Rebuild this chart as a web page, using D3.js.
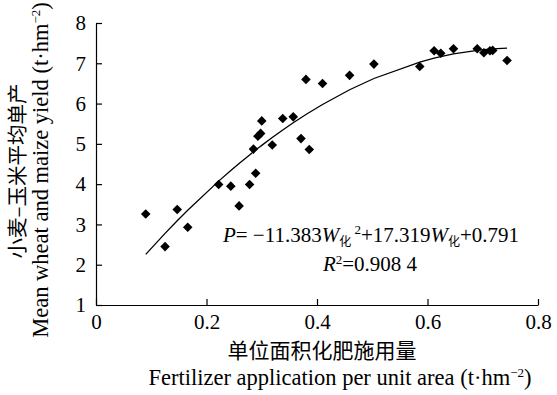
<!DOCTYPE html>
<html>
<head>
<meta charset="utf-8">
<script src="https://cdn.jsdelivr.net/npm/d3@7"></script>
<style>
  body { margin: 0; background: #fff; }
  text { font-family: "Liberation Serif", "Noto Sans CJK SC", serif; fill: #000; }
</style>
</head>
<body>
<div id="chart"></div>
<script>
// fertilizer rate (t/hm2) and mean yield (t/hm2)
const fert = [0.090, 0.125, 0.147, 0.166, 0.222, 0.244, 0.259, 0.278, 0.289, 0.285,
              0.293, 0.298, 0.300, 0.319, 0.338, 0.357, 0.371, 0.386, 0.380, 0.410,
              0.459, 0.503, 0.586, 0.612, 0.624, 0.647, 0.690, 0.702, 0.713, 0.718, 0.744];
const yieldV = [3.26, 2.45, 3.37, 2.93, 3.99, 3.95, 3.46, 3.99, 4.27, 4.87,
                5.19, 5.26, 5.57, 4.97, 5.63, 5.67, 5.13, 4.86, 6.60, 6.50,
                6.70, 6.98, 6.92, 7.31, 7.25, 7.36, 7.36, 7.26, 7.31, 7.32, 7.07];
// trend line P = a W^2 + b W + c, coefficients as printed on the chart
const fitCoef = [-11.383, 17.319, 0.791];
const xTicks = [0, 0.2, 0.4, 0.6, 0.8];
const yTicks = [1, 2, 3, 4, 5, 6, 7, 8];

const data = fert.map((f, i) => ({x: f, y: yieldV[i]}));

const width = 557, height = 395;
const svg = d3.select("#chart").append("svg")
    .attr("width", width)
    .attr("height", height);

const x = d3.scaleLinear().domain([0, 0.8]).range([96, 538]);
const y = d3.scaleLinear().domain([1, 8]).range([305, 23]);

// axes, ticks point inward
const xAxis = svg.append("g")
    .attr("transform", `translate(0,${y(1)})`)
    .call(d3.axisBottom(x).tickValues(xTicks).tickFormat(d => d === 0 ? "0" : d3.format(".1f")(d))
      .tickSizeInner(-6).tickSizeOuter(0).tickPadding(9));
const yAxis = svg.append("g")
    .attr("transform", `translate(${x(0)},0)`)
    .call(d3.axisLeft(y).tickValues(yTicks).tickFormat(d3.format("d"))
      .tickSizeInner(-6).tickSizeOuter(0).tickPadding(10));
[xAxis, yAxis].forEach(g => {
  g.selectAll("text").style("font-size", "21px").attr("fill", "#000")
    .style("font-family", "'Liberation Serif', serif");
  g.selectAll("line, path").attr("stroke", "#000").attr("stroke-width", 1.2);
});

// fitted curve evaluated at the sorted observation points (like the source software)
const fitY = w => fitCoef[0] * w * w + fitCoef[1] * w + fitCoef[2];
const curve = fert.slice().sort(d3.ascending).map(w => [w, fitY(w)]);
svg.append("path")
    .datum(curve)
    .attr("fill", "none")
    .attr("stroke", "#000")
    .attr("stroke-width", 1.3)
    .attr("d", d3.line().x(d => x(d[0])).y(d => y(d[1])));

// diamond markers
const diamond = d3.symbol().type(d3.symbolSquare).size(46);
svg.append("g")
  .selectAll("path")
  .data(data)
  .join("path")
    .attr("d", diamond)
    .attr("transform", d => `translate(${x(d.x)},${y(d.y)}) rotate(45)`)
    .attr("fill", "#000");

// equation
const eq = svg.append("text")
    .attr("x", 371).attr("y", 242)
    .attr("text-anchor", "middle")
    .style("font-size", "21px");
eq.append("tspan").style("font-style", "italic").text("P");
eq.append("tspan").text("= \u221211.383");
eq.append("tspan").style("font-style", "italic").text("W");
eq.append("tspan").attr("dy", 4).style("font-size", "12px").text("化");
eq.append("tspan").attr("dy", -12).style("font-size", "13px").text(" 2");
eq.append("tspan").attr("dy", 8).text("+17.319");
eq.append("tspan").style("font-style", "italic").text("W");
eq.append("tspan").attr("dy", 4).style("font-size", "12px").text("化");
eq.append("tspan").attr("dy", -4).text("+0.791");

const r2 = svg.append("text")
    .attr("x", 370).attr("y", 271)
    .attr("text-anchor", "middle")
    .style("font-size", "21px");
r2.append("tspan").style("font-style", "italic").text("R");
r2.append("tspan").attr("dy", -7).style("font-size", "13px").text("2");
r2.append("tspan").attr("dy", 7).text("=0.908 4");

// axis titles
svg.append("text")
    .attr("x", 322).attr("y", 358)
    .attr("text-anchor", "middle")
    .style("font-size", "21px")
    .style("font-family", "'Noto Sans CJK SC', sans-serif")
    .text("单位面积化肥施用量");
const xt = svg.append("text")
    .attr("x", 340).attr("y", 384.5)
    .attr("text-anchor", "middle")
    .style("font-size", "22.5px");
xt.append("tspan").text("Fertilizer application per unit area (t\u00b7hm");
xt.append("tspan").attr("dy", -8).style("font-size", "13px").text("\u22122");
xt.append("tspan").attr("dy", 8).text(")");

svg.append("text")
    .attr("transform", "translate(25,171) rotate(-90)")
    .attr("text-anchor", "middle")
    .style("font-size", "20.5px")
    .style("font-family", "'Noto Sans CJK SC', sans-serif")
    .text("小麦\u2013玉米平均单产");
const yt = svg.append("text")
    .attr("transform", "translate(48,170) rotate(-90)")
    .attr("text-anchor", "middle")
    .style("font-size", "22.5px");
yt.append("tspan").text("Mean wheat and maize yield (t\u00b7hm");
yt.append("tspan").attr("dy", -8).style("font-size", "13px").text("\u22122");
yt.append("tspan").attr("dy", 8).text(")");
</script>
</body>
</html>
